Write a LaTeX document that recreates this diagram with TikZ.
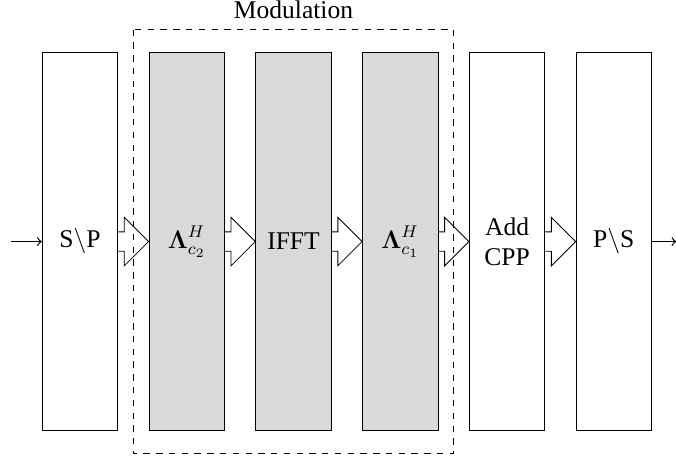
\documentclass[tikz,border=0pt]{standalone}
\usepackage{amsmath}
\usepackage{amssymb}
\usepackage{fontspec}
\setmainfont{Liberation Serif}
\usetikzlibrary{calc,positioning}

% open block arrow from one block to the next
\newcommand{\hollowarrow}[2]{%
	\draw ($(#1.east)+(0,0.16)$) -- ++(0.1,0) -- ++(0,0.24) -- (#2.west)
	-- ($(#1.east)+(0.1,-0.4)$) -- ++(0,0.24) -- ($(#1.east)+(0,-0.16)$);}

\begin{document}
\begin{tikzpicture}
				\tikzstyle{every node}=[font=\large]
				\tikzstyle{block}=[draw, minimum width=1.25cm, minimum height=6.25cm, inner sep=0pt, align=center]
				\tikzstyle{shaded}=[block, fill=black!15]
				\useasboundingbox (0,0) rectangle (11.17,-7.59);
				
				\node[block, anchor=north west] (sp) at (0.69,-0.86) {S$\backslash$P};
				\node[shaded, right=0.5cm of sp] (lamtwo) {$\boldsymbol{\Lambda}_{c_2}^{H}$};
				\node[shaded, right=0.5cm of lamtwo] (ifft) {IFFT};
				\node[shaded, right=0.5cm of ifft] (lamone) {$\boldsymbol{\Lambda}_{c_1}^{H}$};
				\node[block, right=0.5cm of lamone] (cpp) {Add\\CPP};
				\node[block, right=0.5cm of cpp] (ps) {P$\backslash$S};
				
				\coordinate[left=0.5cm of sp] (in);
				\coordinate[right=0.4cm of ps] (out);
				\draw [->, semithick] (in) -- (sp);
				\draw [->, semithick] (ps) -- (out);
				
				\hollowarrow{sp}{lamtwo}
				\hollowarrow{lamtwo}{ifft}
				\hollowarrow{ifft}{lamone}
				\hollowarrow{lamone}{cpp}
				\hollowarrow{cpp}{ps}
				
				%\node at (3,3) {$X$};
				\draw [dashed] ($(lamtwo.north west)+(-0.25,0.37)$) rectangle ($(lamone.south east)+(0.25,-0.37)$);
				\node[above=0.05cm] (mod) at ($(lamtwo.north west)!0.5!(lamone.north east)+(0,0.37)$) {Modulation};
				
\end{tikzpicture}
\end{document}
